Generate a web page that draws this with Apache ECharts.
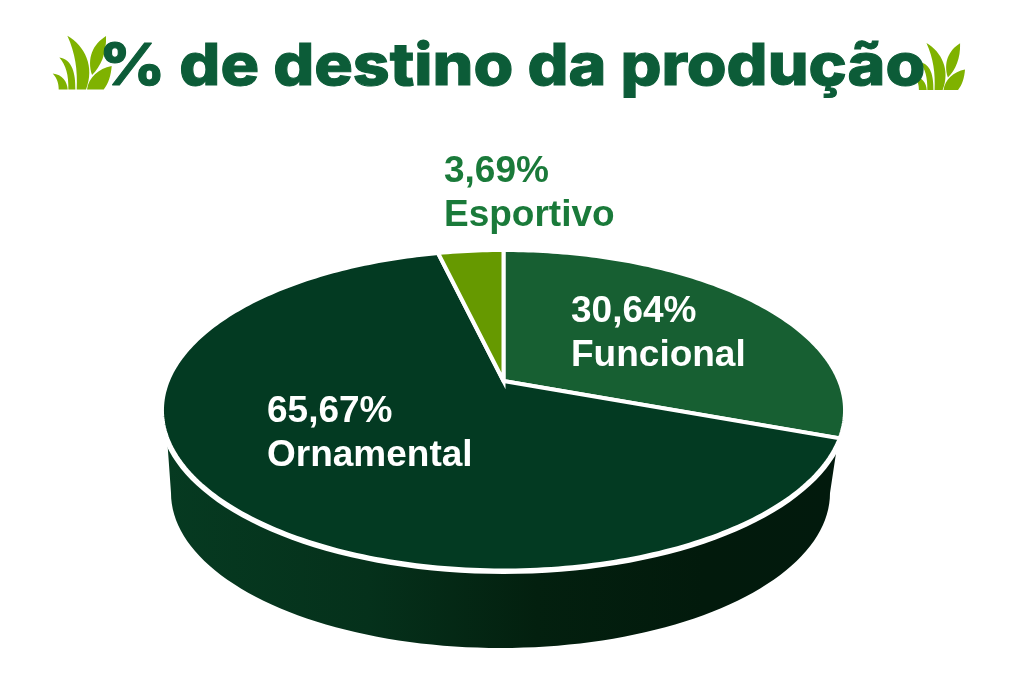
<!DOCTYPE html>
<html>
<head>
<meta charset="utf-8">
<title>% de destino da produção</title>
<script src="https://cdn.jsdelivr.net/npm/echarts@6/dist/echarts.min.js"></script>
<style>
  html, body { margin: 0; padding: 0; background: #fff; }
  #chart { width: 1021px; height: 677px; }
</style>
</head>
<body>
<div id="chart"></div>
<script>
const titleText = '% de destino da produção'
const categories = ['Funcional', 'Ornamental', 'Esportivo']
const shares = [30.64, 65.67, 3.69]

const sliceColors = ['#175f32', '#033a22', '#669900']
const labelColors = ['#fff', '#fff', '#1a7a3a']
const labelAnchors = [[571, 290], [267, 390], [444, 150]]

// the picture is a tilted disc: circle -> screen via a perspective map, apex is off the ellipse centre
const apex = [503.5, 381]
const discScale = 335.8
const discTilt = 154.9
const discPersp = 0.1825
const wall = { cx: 500.5, cy: 493, a: 329.5, b: 155 }

function project(deg) {
  const t = deg * Math.PI / 180
  const x = Math.sin(t)
  const y = Math.cos(t)
  const d = 1 + discPersp * y
  return [apex[0] + discScale * x / d, apex[1] - discTilt * y / d]
}

function sliceRange(index) {
  let start = 0
  for (let i = 0; i < index; i++) start += shares[i]
  return [start * 3.6, (start + shares[index]) * 3.6]
}

function renderSlice(params, api) {
  const i = params.dataIndex
  const range = sliceRange(i)
  const pts = [apex]
  for (let a = range[0]; a < range[1]; a += 1) pts.push(project(a))
  pts.push(project(range[1]))
  return {
    type: 'group',
    children: [{
      type: 'polygon',
      shape: { points: pts },
      style: { fill: sliceColors[i], stroke: '#fff', lineWidth: 4, lineJoin: 'miter' }
    }, {
      type: 'text',
      z2: 10,
      x: labelAnchors[i][0],
      y: labelAnchors[i][1],
      style: {
        text: api.value(0).toFixed(2).replace('.', ',') + '%\n' + categories[i],
        fill: labelColors[i],
        font: 'bold 37px "Liberation Sans", Arial, sans-serif',
        lineHeight: 44
      }
    }]
  }
}

function renderWall() {
  const pts = [[167, 437]]
  for (let a = 180; a >= 0; a -= 2) {
    const t = a * Math.PI / 180
    pts.push([wall.cx + wall.a * Math.cos(t), wall.cy + wall.b * Math.sin(t)])
  }
  pts.push([838, 440])
  // white rim under the slices, the gap to the wall is wider than the slice dividers
  const rim = []
  for (let a = 0; a < 360; a += 2) rim.push(project(a))
  return {
    type: 'group',
    children: [{
      type: 'polygon',
      shape: { points: pts },
      style: {
        fill: new echarts.graphic.LinearGradient(0, 0, 1, 0, [
          { offset: 0, color: '#063a21' },
          { offset: 0.3, color: '#05311b' },
          { offset: 0.55, color: '#03200f' },
          { offset: 0.8, color: '#021a0c' },
          { offset: 1, color: '#021a0d' }
        ])
      }
    }, {
      type: 'polygon',
      shape: { points: rim },
      style: { fill: '#fff', stroke: '#fff', lineWidth: 7 }
    }]
  }
}

const grass = 'M68 160 C97 163 112 185 113 208 L86 208 C86 190 82 175 68 160 Z ' +
  'M88 112 C127 118 137 160 136 208 L115 208 C116 165 108 135 88 112 Z ' +
  'M112 47 C165 78 195 140 168 208 L140 208 C143 150 136 100 112 47 Z ' +
  'M228 48 C188 73 170 115 186 165 C212 140 230 100 228 48 Z ' +
  'M245 138 C205 146 176 172 171 208 L221 208 C236 190 243 165 245 138 Z'
const grassBoxes = [[52.7, 35.7, 59, 53.7], [913.7, 43, 51.3, 47]]

function renderGrass(params) {
  const b = grassBoxes[params.dataIndex]
  return {
    type: 'path',
    shape: { pathData: grass, x: b[0], y: b[1], width: b[2], height: b[3], layout: 'cover' },
    style: { fill: '#7fb200' }
  }
}

const chart = echarts.init(document.getElementById('chart'))
chart.setOption({
  animation: false,
  backgroundColor: '#fff',
  graphic: [
    {
      type: 'text',
      x: 99,
      y: 39,
      scaleX: 1.11,
      z: 2,
      style: { text: titleText, fill: '#0c5c38', stroke: '#0c5c38', lineWidth: 1, font: '800 58px Inter, sans-serif' }
    }
  ],
  series: [
    { type: 'custom', coordinateSystem: 'none', silent: true, z: 1, data: [0, 1], renderItem: renderGrass },
    { type: 'custom', coordinateSystem: 'none', silent: true, z: 3, data: [1], renderItem: renderWall },
    { type: 'custom', coordinateSystem: 'none', silent: true, z: 4, data: shares, renderItem: renderSlice }
  ]
})
</script>
</body>
</html>
